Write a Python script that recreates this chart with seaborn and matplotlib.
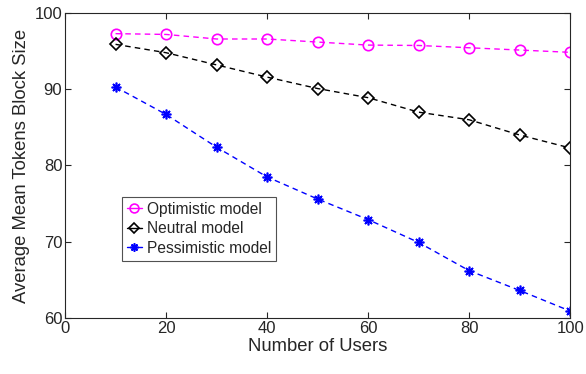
import matplotlib
matplotlib.use("Agg")
import matplotlib.pyplot as plt
import seaborn as sns
import pandas as pd

users = [10, 20, 30, 40, 50, 60, 70, 80, 90, 100]
optimistic = [97.3, 97.2, 96.6, 96.6, 96.2, 95.8, 95.75, 95.45, 95.15, 94.85]
neutral = [95.9, 94.8, 93.2, 91.6, 90.1, 88.9, 87.0, 86.0, 84.0, 82.3]
pessimistic = [90.3, 86.7, 82.4, 78.5, 75.6, 72.9, 69.9, 66.2, 63.6, 60.9]

x_ticks = [0, 20, 40, 60, 80, 100]
y_ticks = [60, 70, 80, 90, 100]

sns.set_theme(style="white")
plt.rcParams["font.family"] = ["Liberation Sans", "DejaVu Sans"]

fig, ax = plt.subplots(figsize=(5.86, 3.74), dpi=100)
fig.subplots_adjust(left=0.111, right=0.973, top=0.965, bottom=0.150)

series = [
    ("Optimistic model", optimistic, "#ff00ff", "o", 7.5),
    ("Neutral model", neutral, "black", "D", 6.5),
    ("Pessimistic model", pessimistic, "blue", (8, 2, 0), 7.0),
]

for label, values, color, marker, ms in series:
    df = pd.DataFrame({"users": users, "size": values})
    sns.lineplot(
        data=df, x="users", y="size", ax=ax, label=label,
        color=color, linestyle=(0, (4, 3)), linewidth=1.0,
        marker=marker, markersize=ms, markerfacecolor="none",
        markeredgecolor=color, markeredgewidth=1.2,
    )

ax.set_xlim(0, 100)
ax.set_ylim(60, 100)
ax.set_xticks(x_ticks)
ax.set_yticks(y_ticks)
ax.set_xlabel("Number of Users", fontsize=13.3, color="#262626", labelpad=2)
ax.set_ylabel("Average Mean Tokens Block Size", fontsize=13.3, color="#262626", labelpad=3)

edge = "#262626"
for sp in ax.spines.values():
    sp.set_visible(True)
    sp.set_color(edge)
    sp.set_linewidth(0.8)
ax.tick_params(direction="in", length=4, width=0.8, colors=edge,
               labelsize=12, top=True, right=True, bottom=True, left=True,
               pad=2)
for t in ax.get_xticklabels() + ax.get_yticklabels():
    t.set_color("#262626")

leg = ax.legend(loc="upper left", bbox_to_anchor=(0.113, 0.397),
                fontsize=11.2, frameon=True, fancybox=False,
                edgecolor="#262626", handlelength=0.95, handletextpad=0.35,
                borderpad=0.3, labelspacing=0.3, borderaxespad=0,
                markerscale=0.85)
leg.get_frame().set_linewidth(0.8)
for h in leg.get_lines():
    h.set_linestyle("-")

fig.savefig("out.png", dpi=100)
